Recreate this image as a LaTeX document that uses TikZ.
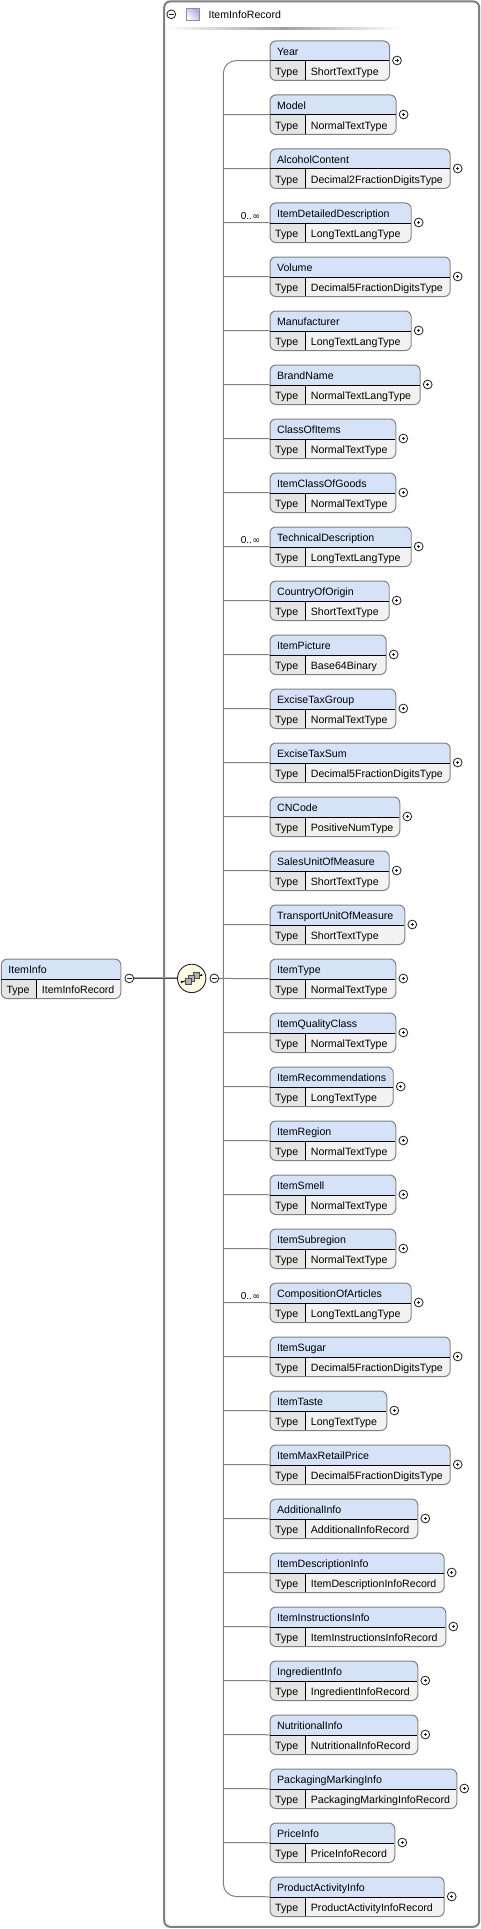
\documentclass[tikz,border=0pt]{standalone}
\usepackage{fontspec}
\setmainfont{Liberation Sans}
\usetikzlibrary{calc}
\definecolor{headc}{HTML}{D5E2F7}
\definecolor{typec}{HTML}{E4E4E4}
\definecolor{valc}{HTML}{F2F2F2}
\definecolor{edgec}{HTML}{808080}
\definecolor{icond}{HTML}{202020}
\definecolor{seqc}{HTML}{FBFBE4}
\definecolor{purplec}{HTML}{B4A8DC}
\tikzset{
  lab/.style={inner sep=0pt,anchor=base west,text=black,font=\fontsize{10.6}{12}\selectfont},
  shellbox/.style={draw=edgec,line width=1pt,rounded corners=6pt,inner sep=0pt,anchor=north west,minimum height=39.5pt},
  conn/.style={draw=edgec,line width=1pt},
  rule/.style={draw=black,line width=1pt},
  icon/.style={circle,draw=icond,fill=white,line width=0.8pt,minimum size=8.8pt,inner sep=0pt},
  glyph/.style={draw=icond,line width=0.7pt},
}
% #1 top, #2 name, #3 value, #4 left, #5 right, #6 type divider, #7 id
\newcommand\elbox[7]{%
  \begin{scope}
    \clip[rounded corners=6pt] (#4,#1) rectangle (#5,#1+39.5);
    \fill[headc] (#4,#1) rectangle (#5,#1+20.5);
    \fill[typec] (#4,#1+20.5) rectangle (#6,#1+39.5);
    \fill[valc] (#6,#1+20.5) rectangle (#5,#1+39.5);
  \end{scope}
  \node[shellbox,minimum width={(#5-#4)*1pt}] (b#7) at (#4,#1) {};
  \draw[rule] (#4,#1+20.5) -- (#5,#1+20.5);
  \draw[rule] (#6,#1+20.5) -- (#6,#1+39.5);
  \node[lab] (n#7) at (#4+7.4,#1+14.6) {#2};
  \node[lab] (t#7) at (#4+5.5,#1+34.6) {Type};
  \node[lab] (v#7) at (#6+5.4,#1+34.6) {#3};
}
% #1 index, #2 name, #3 value, #4 right
\newcommand\elem[4]{%
  \pgfmathsetmacro\ty{40.5+54*#1}
  \elbox{\ty}{#2}{#3}{269.5}{#4}{305.3}{#2}
  \coordinate (j#2) at (223.3,\ty+20);
  \node[icon] (p#2) at (#4+8,\ty+20) {};
  \draw[glyph] ($(p#2.center)+(-1.7,0)$) -- ($(p#2.center)+(1.7,0)$);
  \draw[glyph] ($(p#2.center)+(0,-1.7)$) -- ($(p#2.center)+(0,1.7)$);
}
\newcommand\plainlink[1]{\draw[conn] (j#1) -- (b#1.west);}
\newcommand\occurs[1]{%
  \node[inner sep=0pt,anchor=base west,font=\fontsize{10}{12}\selectfont] (o#1) at ($(b#1.west)+(-28.8,-3)$) {0..\kern0.4pt{\fontspec{DejaVu Sans}\fontsize{9.5}{10}\selectfont ∞}};
}
\begin{document}
\begin{tikzpicture}[x=1pt,y=-1pt]
\useasboundingbox (0,0) rectangle (481,1929);
\fill[white] (0,0) rectangle (481,1929);
% outer group box
\node[draw=edgec,line width=2pt,rounded corners=6pt,inner sep=0pt,anchor=north west,minimum width=315pt,minimum height=1925.4pt] (group) at (163.2,0.4) {};
\node[icon] (gm) at (171.3,14.3) {};
\draw[glyph] ($(gm.center)+(-2.2,0)$) -- ($(gm.center)+(2.2,0)$);
\shade[left color=white,right color=white,middle color=gray!75] (166,28) rectangle (400,30);
\node[draw=purplec!80!black,line width=0.6pt,left color=white,right color=purplec,shading angle=135,minimum size=12.4pt,inner sep=0pt] (gs) at (192.6,14.4) {};
\node[lab] (gt) at (208.4,18.2) {ItemInfoRecord};

\elem{0}{Year}{ShortTextType}{389}
\elem{1}{Model}{NormalTextType}{395.6}
\elem{2}{AlcoholContent}{Decimal2FractionDigitsType}{449.7}
\elem{3}{ItemDetailedDescription}{LongTextLangType}{410.7}
\elem{4}{Volume}{Decimal5FractionDigitsType}{449.7}
\elem{5}{Manufacturer}{LongTextLangType}{410.7}
\elem{6}{BrandName}{NormalTextLangType}{419.7}
\elem{7}{ClassOfItems}{NormalTextType}{395.3}
\elem{8}{ItemClassOfGoods}{NormalTextType}{395.3}
\elem{9}{TechnicalDescription}{LongTextLangType}{410.7}
\elem{10}{CountryOfOrigin}{ShortTextType}{388.7}
\elem{11}{ItemPicture}{Base64Binary}{385.7}
\elem{12}{ExciseTaxGroup}{NormalTextType}{395.3}
\elem{13}{ExciseTaxSum}{Decimal5FractionDigitsType}{449.7}
\elem{14}{CNCode}{PositiveNumType}{399.3}
\elem{15}{SalesUnitOfMeasure}{ShortTextType}{388.7}
\elem{16}{TransportUnitOfMeasure}{ShortTextType}{404.3}
\elem{17}{ItemType}{NormalTextType}{395.3}
\elem{18}{ItemQualityClass}{NormalTextType}{395.3}
\elem{19}{ItemRecommendations}{LongTextType}{392.7}
\elem{20}{ItemRegion}{NormalTextType}{395.3}
\elem{21}{ItemSmell}{NormalTextType}{395.3}
\elem{22}{ItemSubregion}{NormalTextType}{395.3}
\elem{23}{CompositionOfArticles}{LongTextLangType}{410.7}
\elem{24}{ItemSugar}{Decimal5FractionDigitsType}{449.7}
\elem{25}{ItemTaste}{LongTextType}{386.3}
\elem{26}{ItemMaxRetailPrice}{Decimal5FractionDigitsType}{449.7}
\elem{27}{AdditionalInfo}{AdditionalInfoRecord}{417.3}
\elem{28}{ItemDescriptionInfo}{ItemDescriptionInfoRecord}{443.7}
\elem{29}{ItemInstructionsInfo}{ItemInstructionsInfoRecord}{445.3}
\elem{30}{IngredientInfo}{IngredientInfoRecord}{417.3}
\elem{31}{NutritionalInfo}{NutritionalInfoRecord}{417.3}
\elem{32}{PackagingMarkingInfo}{PackagingMarkingInfoRecord}{456.3}
\elem{33}{PriceInfo}{PriceInfoRecord}{394.3}
\elem{34}{ProductActivityInfo}{ProductActivityInfoRecord}{443.7}

% trunk
\draw[conn,rounded corners=13pt] (bYear.west) -- (jYear) -- (jProductActivityInfo) -- (bProductActivityInfo.west);
\foreach \e in {Model,AlcoholContent,ItemDetailedDescription,Volume,Manufacturer,BrandName,ClassOfItems,ItemClassOfGoods,TechnicalDescription,CountryOfOrigin,ItemPicture,ExciseTaxGroup,ExciseTaxSum,CNCode,SalesUnitOfMeasure,TransportUnitOfMeasure,ItemQualityClass,ItemRecommendations,ItemRegion,ItemSmell,ItemSubregion,CompositionOfArticles,ItemSugar,ItemTaste,ItemMaxRetailPrice,AdditionalInfo,ItemDescriptionInfo,ItemInstructionsInfo,IngredientInfo,NutritionalInfo,PackagingMarkingInfo,PriceInfo}{\plainlink{\e}}
\occurs{ItemDetailedDescription}
\occurs{TechnicalDescription}
\occurs{CompositionOfArticles}

% root element
\elbox{958.6}{ItemInfo}{ItemInfoRecord}{0.8}{120.3}{36.3}{root}
\node[icon] (rm) at (129.3,978.4) {};
\draw[glyph] ($(rm.center)+(-2.2,0)$) -- ($(rm.center)+(2.2,0)$);
% sequence compositor
\node[circle,draw=icond,fill=seqc,line width=0.9pt,minimum size=28.4pt,inner sep=0pt] (seq) at (191.7,978.4) {};
\draw[draw=gray!75,line width=2pt] (rm.east) -- (seq.west);
\draw[draw=edgec!60!black,line width=0.8pt] (rm.east) -- (seq.west);
\node[icon] (sm) at (214.3,978.4) {};
\draw[glyph] ($(sm.center)+(-2.2,0)$) -- ($(sm.center)+(2.2,0)$);
\draw[conn] (sm.east) -- (bItemType.west);
% compositor glyph
\draw[draw=black,line width=0.9pt] (181.8,982) -- (201.6,975);
\fill[black] (181.8,982) circle (1.1) (201.6,975) circle (1.1);
\draw[draw=black!70,fill=gray!60,line width=0.7pt] (193,972.2) rectangle (199,978.2);
\draw[draw=black!70,fill=gray!60,line width=0.7pt] (188.7,975) rectangle (194.7,981);
\draw[draw=black!70,fill=gray!60,line width=0.7pt] (185.4,978.4) rectangle (191.4,984.4);
\end{tikzpicture}
\end{document}
